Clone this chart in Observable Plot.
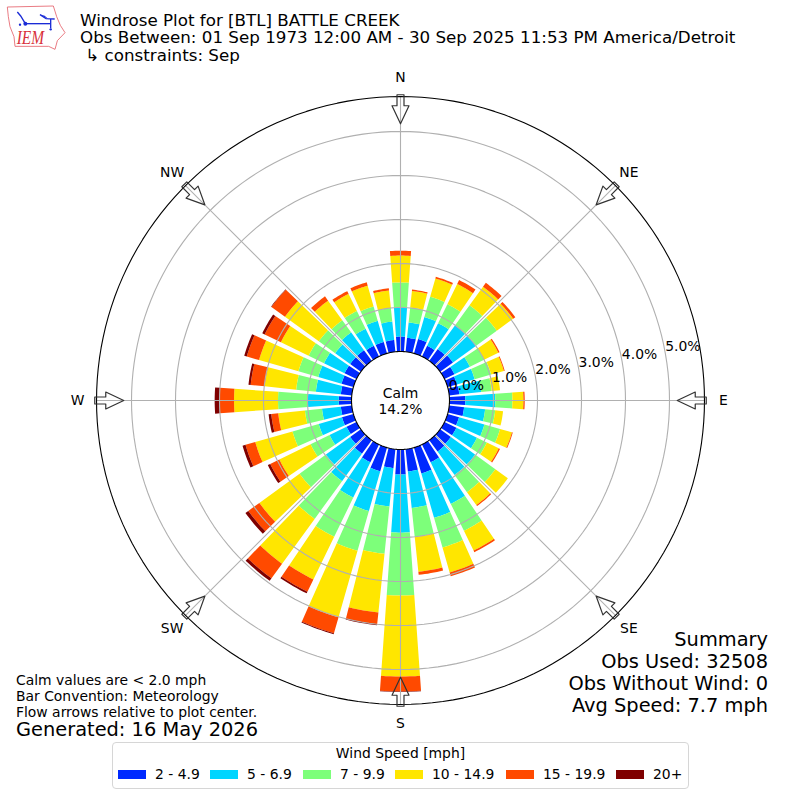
<!DOCTYPE html>
<html>
<head>
<meta charset="utf-8">
<script src="https://cdn.jsdelivr.net/npm/d3@7"></script>
<script src="https://cdn.jsdelivr.net/npm/@observablehq/plot@0.6"></script>
<style>
html,body{margin:0;padding:0;background:#fff;}
#page{position:relative;width:800px;height:800px;overflow:hidden;font-family:"DejaVu Sans",sans-serif;color:#000;}
#page svg.plot{position:absolute;left:0;top:0;}
.t{position:absolute;white-space:pre;}
#legend{position:absolute;left:112px;top:742px;width:575px;height:45px;border:1.5px solid #d6d6d6;border-radius:4px;background:#fff;box-sizing:content-box;}
#legend .lt{position:absolute;left:0;right:0;top:2px;text-align:center;font-size:13.9px;line-height:17px;}
#legend .sw{position:absolute;top:26.5px;width:28px;height:9.5px;}
#legend .lb{position:absolute;top:22px;font-size:13.9px;line-height:18px;white-space:pre;}
</style>
</head>
<body>
<div id="page"></div>
<script>
const directions = d3.range(0, 360, 10);
const speedLabels = ["2 - 4.9", "5 - 6.9", "7 - 9.9", "10 - 14.9", "15 - 19.9", "20+"];
const speedColors = ["#0029ff", "#00d5ff", "#7dff7a", "#ffe600", "#ff4a00", "#7f0000"];
const speed2to5 = [.34,.32,.34,.27,.33,.36,.25,.22,.23,.36,.34,.27,.30,.30,.32,.45,.61,.51,.57,.43,.56,.45,.38,.30,.25,.27,.25,.29,.25,.28,.30,.30,.30,.27,.27,.27];
const speed5to7 = [.66,.35,.52,.57,.67,.65,.39,.42,.50,.68,.48,.60,.52,.68,.66,1.05,1.05,.83,1.32,.88,.94,.89,.77,.68,.43,.55,.43,.70,.57,.55,.52,.42,.50,.43,.50,.42];
const speed7to10 = [.57,.34,.48,.48,.56,.58,.36,.39,.24,.39,.23,.37,.25,.57,.48,.68,.70,.66,1.43,1.08,.94,.99,1.06,.74,.48,.62,.39,.68,.45,.47,.39,.46,.34,.45,.34,.31];
const speed10to15 = [.61,.38,.43,.51,.52,.46,.36,.30,.19,.25,.18,.28,.30,.35,.36,.50,.59,.80,1.84,1.34,1.57,1.08,1.26,1.13,.79,.88,.61,1.00,.72,.93,.70,.95,.55,.43,.49,.40];
const speed15to20 = [.11,.03,.04,.10,.11,.06,.03,.02,0,.03,0,.02,.03,0,.03,.04,.09,.07,.34,.27,.38,.31,.41,.31,.23,.23,.16,.33,.32,.29,.41,.38,.12,.07,.08,.05];
const speed20up = [0,0,0,0,0,0,0,0,0,0,0,0,0,0,0,0,0,0,.01,.02,.02,.04,.07,.08,.06,.07,.06,.11,.05,.06,.06,.01,0,0,0,0];
const seriesList = [speed2to5, speed5to7, speed7to10, speed10to15, speed15to20, speed20up];
const ringValues = [1, 2, 3, 4, 5];
const ringLabels = [0, 1, 2, 3, 4, 5];
const compassNames = ["N", "NE", "E", "SE", "S", "SW", "W", "NW"];
const compassAngles = [0, 45, 90, 135, 180, 225, 270, 315];

const rOrigin = 1.1136, rMax = 5.795, half = 9.0909, barHalf = 4.05, labelAngle = 79.7;
const px = (deg, v) => (v + rOrigin) * Math.sin(deg * Math.PI / 180);
const py = (deg, v) => (v + rOrigin) * Math.cos(deg * Math.PI / 180);

// wedge outlines in percent units
const wedges = [];
directions.forEach((d, i) => {
  let base = 0;
  seriesList.forEach((s, k) => {
    const v = s[i];
    if (v > 0) {
      const id = d + "-" + k;
      const angs = d3.range(0, 9).map(j => d - barHalf + j * barHalf / 4);
      angs.forEach(a => wedges.push({id, speed: speedLabels[k], order: k, x: px(a, base + v), y: py(a, base + v)}));
      angs.slice().reverse().forEach(a => wedges.push({id, speed: speedLabels[k], order: k, x: px(a, base), y: py(a, base)}));
    }
    base += v;
  });
});
const circle = (v) => d3.range(0, 361, 2).map(a => ({ring: v, x: px(a, v), y: py(a, v)}));
const rings = ringValues.flatMap(circle);
const innerRing = circle(0);
const outerRing = circle(rMax);
const spokes = compassAngles.flatMap(a => [
  {a, x: px(a, 0), y: py(a, 0)}, {a, x: px(a, rMax), y: py(a, rMax)}
]);
const arrows = compassAngles.map(a => ({a, x: px(a, rMax + 0.04), y: py(a, rMax + 0.04), rotate: a + 180}));
const compassLabels = compassNames.map((n, i) => ({n, x: 7.34 * Math.sin(compassAngles[i] * Math.PI / 180), y: 7.34 * Math.cos(compassAngles[i] * Math.PI / 180)}));
const pctLabels = ringLabels.map(v => ({t: v.toFixed(1) + "%", x: px(labelAngle, v), y: py(labelAngle, v)}));

const arrowShape = {
  draw(ctx, l) {
    const s = 3.5, h = 8.5, shaft = 11;
    ctx.moveTo(-s, 0);
    ctx.lineTo(-s, -shaft);
    ctx.lineTo(-h, -shaft);
    ctx.lineTo(0, -l);
    ctx.lineTo(h, -shaft);
    ctx.lineTo(s, -shaft);
    ctx.lineTo(s, 0);
    ctx.closePath();
  }
};

const chart = Plot.plot({
  width: 800, height: 800,
  margin: 0,
  x: {domain: [-half, half], range: [0, 800], axis: null},
  y: {domain: [-half, half], range: [800, 0], axis: null},
  color: {domain: speedLabels, range: speedColors},
  style: {background: "transparent", fontFamily: "DejaVu Sans", overflow: "visible"},
  marks: [
    Plot.line(wedges, {x: "x", y: "y", z: "id", fill: "speed", stroke: "none", curve: "linear-closed"}),
    Plot.line(rings, {x: "x", y: "y", z: "ring", stroke: "#b0b0b0", strokeWidth: 1.1}),
    Plot.line(spokes, {x: "x", y: "y", z: "a", stroke: "#b0b0b0", strokeWidth: 1.1}),
    Plot.line(innerRing, {x: "x", y: "y", stroke: "#000", strokeWidth: 1.1}),
    Plot.line(outerRing, {x: "x", y: "y", stroke: "#000", strokeWidth: 1.1}),
    Plot.vector(arrows, {x: "x", y: "y", rotate: "rotate", length: 29, shape: arrowShape, anchor: "start", stroke: "#333", strokeWidth: 1.2, fill: "none"}),
    Plot.text(compassLabels, {x: "x", y: "y", text: "n", fontSize: 13.9, fill: "#000"}),
    Plot.text(pctLabels, {x: "x", y: "y", text: "t", textAnchor: "start", dy: -6, fontSize: 13.9, fill: "#000"}),
    Plot.text(["Calm\n14.2%"], {x: [0], y: [0], text: d => d, fontSize: 13.9, lineHeight: 1.15, fill: "#000"})
  ]
});
const page = document.getElementById("page");
page.appendChild(chart);

function addText(str, left, top, size, lh, extra) {
  const d = document.createElement("div");
  d.className = "t";
  d.textContent = str;
  d.style.fontSize = size + "px";
  d.style.lineHeight = lh + "px";
  d.style.top = top + "px";
  if (left != null) d.style.left = left + "px";
  if (extra) Object.assign(d.style, extra);
  page.appendChild(d);
}
const titleLines = ["Windrose Plot for [BTL] BATTLE CREEK", "Obs Between: 01 Sep 1973 12:00 AM - 30 Sep 2025 11:53 PM America/Detroit", " \u21b3 constraints: Sep"];
const titleTops = [11.5, 28.5, 46.5];
titleLines.forEach((s, i) => addText(s, 80, titleTops[i], 16.72, 17));

const noteLines = ["Calm values are < 2.0 mph", "Bar Convention: Meteorology", "Flow arrows relative to plot center."];
const noteTops = [672, 688, 704];
noteLines.forEach((s, i) => addText(s, 16, noteTops[i], 13.9, 16));
addText("Generated: 16 May 2026", 16, 720, 19.4, 20);

const summaryLines = ["Summary", "Obs Used: 32508", "Obs Without Wind: 0", "Avg Speed: 7.7 mph"];
const summaryTops = [629, 651, 673, 695];
summaryLines.forEach((s, i) => addText(s, null, summaryTops[i], 19.4, 22, {right: "32px", textAlign: "right"}));

// logo
const logo = document.createElementNS("http://www.w3.org/2000/svg", "svg");
logo.setAttribute("viewBox", "0 0 200 152");
logo.setAttribute("width", "66.7");
logo.setAttribute("height", "50.7");
logo.setAttribute("class", "logo");
logo.style.cssText = "position:absolute;left:0;top:0;";
logo.innerHTML = `
<path d="M22 21 L160 18 L170 50 L181 76 L195 98 L172 122 L165 148 L146 139 L45 139 L42 110 L30 80 L25 50 Z" fill="#fff" stroke="#e4606a" stroke-width="2.5"/>
<g stroke="#1a2bd6" stroke-width="4" fill="none">
<path d="M76 71 L150 71"/><path d="M52 36 L62 48 L76 71"/><path d="M120 44 L138 56 L164 57"/><path d="M152 57 L152 85"/>
</g>
<circle cx="76" cy="71" r="6" fill="#1a2bd6"/>
<path d="M118 43 L134 47 L146 58 Z" fill="#1a2bd6"/>
<circle cx="60" cy="74" r="3.5" fill="#1a2bd6"/><circle cx="152" cy="88" r="3.5" fill="#1a2bd6"/>
<text x="50" y="133" font-family="Liberation Serif" font-style="italic" font-size="54" textLength="82" lengthAdjust="spacingAndGlyphs" fill="#d8303a">IEM</text>`;
page.appendChild(logo);

// legend
const leg = document.createElement("div");
leg.id = "legend";
const lt = document.createElement("div");
lt.className = "lt";
lt.textContent = "Wind Speed [mph]";
leg.appendChild(lt);
const swatchLeft = [5, 97, 190, 282, 393, 503];
speedLabels.forEach((s, i) => {
  const sw = document.createElement("div");
  sw.className = "sw";
  sw.style.left = swatchLeft[i] + "px";
  sw.style.background = speedColors[i];
  leg.appendChild(sw);
  const lb = document.createElement("div");
  lb.className = "lb";
  lb.style.left = (swatchLeft[i] + 37) + "px";
  lb.textContent = s;
  leg.appendChild(lb);
});
page.appendChild(leg);
</script>
</body>
</html>
